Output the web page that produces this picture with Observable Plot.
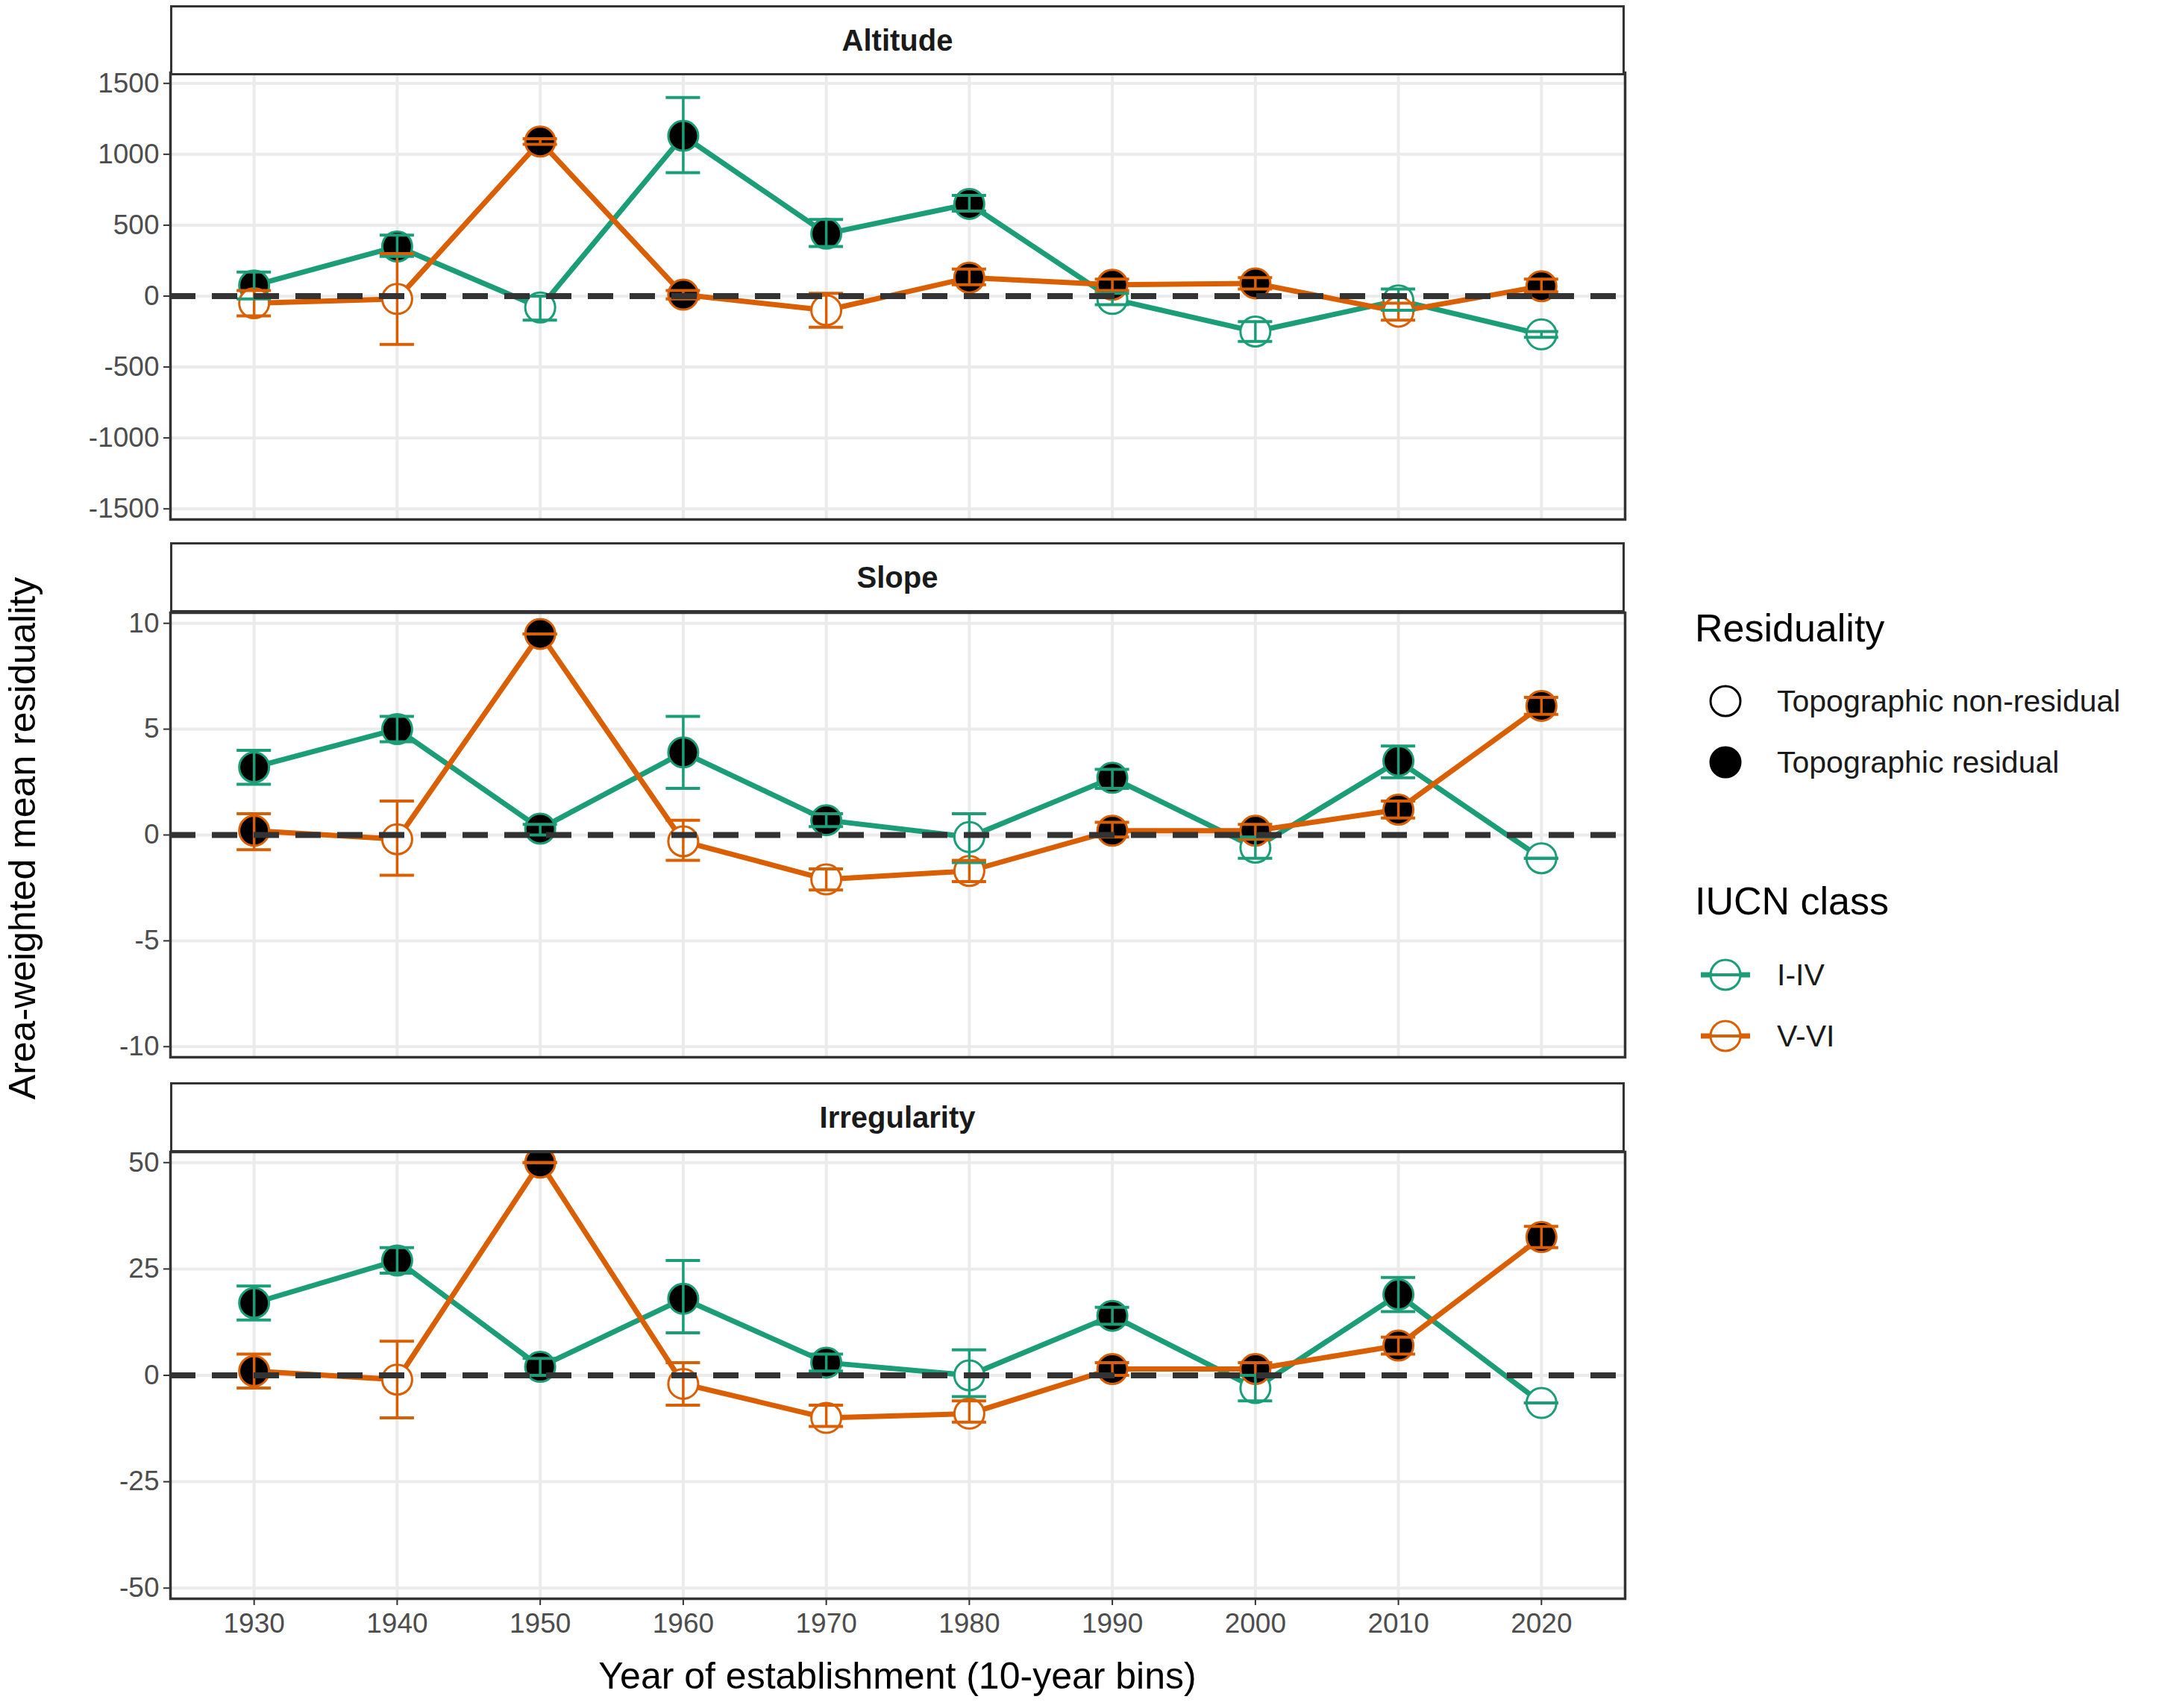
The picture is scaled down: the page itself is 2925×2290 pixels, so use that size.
<!DOCTYPE html>
<html><head><meta charset="utf-8">
<script src="https://cdn.jsdelivr.net/npm/d3@7"></script>
<script src="https://cdn.jsdelivr.net/npm/@observablehq/plot@0.6"></script>
<style>
body{margin:0;background:#fff;font-family:"Liberation Sans",Arial,sans-serif;}
#root{position:relative;width:2925px;height:2290px;overflow:hidden;}
.strip{position:absolute;left:228px;width:1944px;height:88px;border:3px solid #333;background:#fff;font-weight:bold;font-size:40px;color:#1a1a1a;display:flex;align-items:center;justify-content:center;}
.pan{position:absolute;left:0;}
.ytitle{position:absolute;left:-520px;top:1095px;width:1100px;text-align:center;font-size:50px;color:#000;transform:rotate(-90deg);}
.xtitle{position:absolute;left:228px;width:1950px;top:2218px;text-align:center;font-size:50px;color:#000;}
#legend{position:absolute;left:2260px;top:790px;}
</style></head>
<body><div id="root">
<div class="ytitle">Area-weighted mean residuality</div>
<div class="xtitle">Year of establishment (10-year bins)</div>
<svg id="legend" width="660" height="640" font-family="Liberation Sans, Arial, sans-serif"></svg>
</div>
<script>
const years = [1930,1940,1950,1960,1970,1980,1990,2000,2010,2020];
const classes = ["I-IV","V-VI"];
const colors = ["#1b9e77","#d95f02"];
const residLabels = ["Topographic non-residual","Topographic residual"];
// residual (filled) flags
const fillIV = [1,1,0,1,1,1,0,0,0,0];
const fillVVI = [0,0,1,1,0,1,1,1,0,1];
const fillIVs = [1,1,1,1,1,0,1,0,1,0];
const fillVVIs = [1,0,1,0,0,0,1,1,1,1];

const altIV   = [75, 350, -80, 1130, 440, 650, -20, -250, -30, -270];
const altIVlo = [-20, 280, -170, 870, 350, 600, -60, -320, -100, -290];
const altIVhi = [170, 430, 0, 1400, 540, 710, 20, -180, 50, -250];
const altVVI   = [-50, -20, 1090, 10, -100, 130, 80, 90, -110, 70];
const altVVIlo = [-140, -340, 1070, -20, -220, 80, 40, 50, -170, 30];
const altVVIhi = [40, 300, 1110, 40, 20, 190, 120, 130, -50, 120];

const slIV   = [3.2, 5.0, 0.3, 3.9, 0.7, -0.1, 2.7, -0.6, 3.5, -1.1];
const slIVlo = [2.4, 4.4, 0.0, 2.2, 0.4, -1.3, 2.2, -1.1, 2.7, -1.1];
const slIVhi = [4.0, 5.6, 0.5, 5.6, 1.0, 1.0, 3.1, -0.1, 4.2, -1.1];
const slVVI   = [0.2, -0.2, 9.5, -0.3, -2.1, -1.7, 0.2, 0.2, 1.2, 6.1];
const slVVIlo = [-0.7, -1.9, 9.5, -1.2, -2.6, -2.2, -0.1, -0.2, 0.8, 5.7];
const slVVIhi = [1.0, 1.6, 9.5, 0.7, -1.6, -1.2, 0.6, 0.5, 1.6, 6.5];

const irIV   = [17, 27, 2, 18, 3, 0, 14, -3, 19, -6.5];
const irIVlo = [13, 24, 0, 10, 1, -5, 12, -6, 15, -6.5];
const irIVhi = [21, 30, 4, 27, 5, 6, 16, 0, 23, -6.5];
const irVVI   = [1, -1, 50, -2, -10, -9, 1.5, 1.5, 7, 32.5];
const irVVIlo = [-3, -10, 50, -7, -12, -11, 0, 0, 5, 30];
const irVVIhi = [5, 8, 50, 3, -7, -6, 3, 3, 9, 35];

const panels = [
  {name:"Altitude", lim:1500, ticks:[-1500,-1000,-500,0,500,1000,1500],
   s:[[altIV,altIVlo,altIVhi,fillIV],[altVVI,altVVIlo,altVVIhi,fillVVI]], top:97, h:599},
  {name:"Slope", lim:10, ticks:[-10,-5,0,5,10],
   s:[[slIV,slIVlo,slIVhi,fillIVs],[slVVI,slVVIlo,slVVIhi,fillVVIs]], top:821, h:596},
  {name:"Irregularity", lim:50, ticks:[-50,-25,0,25,50],
   s:[[irIV,irIVlo,irIVhi,fillIVs],[irVVI,irVVIlo,irVVIhi,fillVVIs]], top:1544, h:599}
];
const stripTops=[7,727,1451];
const root=document.getElementById("root");

panels.forEach((p,pi)=>{
  const rows=[];
  p.s.forEach((ser,ci)=>years.forEach((yr,i)=>rows.push({year:yr,cls:classes[ci],v:ser[0][i],lo:ser[1][i],hi:ser[2][i],res:ser[3][i]})));
  const last = pi===2;
  const e = p.lim*1.05;
  const capW = 1.2;
  const chart = Plot.plot({
    width:2200, height:p.h+(last?70:0), marginLeft:228, marginRight:22, marginTop:0, marginBottom:last?70:0,
    style:{fontFamily:"Liberation Sans, Arial, sans-serif", fontSize:"37px", color:"#4d4d4d", background:"transparent", overflow:"visible"},
    x:{domain:[1924.15,2025.85], label:null, axis:null},
    y:{domain:[-e,e], label:null, axis:null},
    color:{domain:classes, range:colors},
    marks:[
      Plot.gridX(years,{x:d=>d, stroke:"#ebebeb", strokeOpacity:1, strokeWidth:4}),
      Plot.gridY(p.ticks,{y:d=>d, stroke:"#ebebeb", strokeOpacity:1, strokeWidth:4}),
      Plot.axisY(p.ticks,{anchor:"left", tickSize:9, tickPadding:6, tickFormat:d=>String(d), stroke:"#333", strokeWidth:2, fill:"#4d4d4d", label:null}),
      last ? Plot.axisX(years,{anchor:"bottom", tickSize:9, tickPadding:10, tickFormat:d=>String(d), stroke:"#333", strokeWidth:2, fill:"#4d4d4d", label:null}) : null,
      Plot.line(rows,{x:"year", y:"v", z:"cls", stroke:"cls", strokeWidth:7}),
      Plot.dot(rows,{x:"year", y:"v", r:20, stroke:"cls", strokeWidth:3, fill:d=>d.res?"#000":"#fff"}),
      Plot.ruleX(rows,{x:"year", y1:"lo", y2:"hi", stroke:"cls", strokeWidth:3.5}),
      Plot.ruleY(rows,{y:"lo", x1:d=>d.year-capW, x2:d=>d.year+capW, stroke:"cls", strokeWidth:4}),
      Plot.ruleY(rows,{y:"hi", x1:d=>d.year-capW, x2:d=>d.year+capW, stroke:"cls", strokeWidth:4}),
      Plot.ruleY([0],{stroke:"#333", strokeWidth:8, strokeDasharray:"34,22"}),
      Plot.frame({stroke:"#333", strokeWidth:3.5})
    ]
  });
  chart.classList.add("pan");
  chart.style.top=p.top+"px";
  root.appendChild(chart);
  const st=document.createElement("div");
  st.className="strip"; st.style.top=stripTops[pi]+"px"; st.textContent=p.name;
  root.appendChild(st);
});

// legend
const lg=d3.select("#legend");
lg.append("text").attr("x",12).attr("y",70).attr("font-size",52).text("Residuality");
residLabels.forEach((t,i)=>{
  const y=150+i*82;
  lg.append("circle").attr("cx",53).attr("cy",y).attr("r",20).attr("fill",i?"#000":"#fff").attr("stroke","#000").attr("stroke-width",3);
  lg.append("text").attr("x",122).attr("y",y+14).attr("font-size",41).attr("fill","#1a1a1a").text(t);
});
lg.append("text").attr("x",12).attr("y",436).attr("font-size",52).text("IUCN class");
classes.forEach((t,i)=>{
  const y=517+i*82, c=colors[i];
  lg.append("line").attr("x1",20).attr("x2",86).attr("y1",y).attr("y2",y).attr("stroke",c).attr("stroke-width",7);
  lg.append("circle").attr("cx",53).attr("cy",y).attr("r",20).attr("fill","#fff").attr("stroke",c).attr("stroke-width",3);
  lg.append("line").attr("x1",30).attr("x2",76).attr("y1",y).attr("y2",y).attr("stroke",c).attr("stroke-width",4);
  lg.append("text").attr("x",122).attr("y",y+14).attr("font-size",41).attr("fill","#1a1a1a").text(t);
});
</script>
</body></html>
